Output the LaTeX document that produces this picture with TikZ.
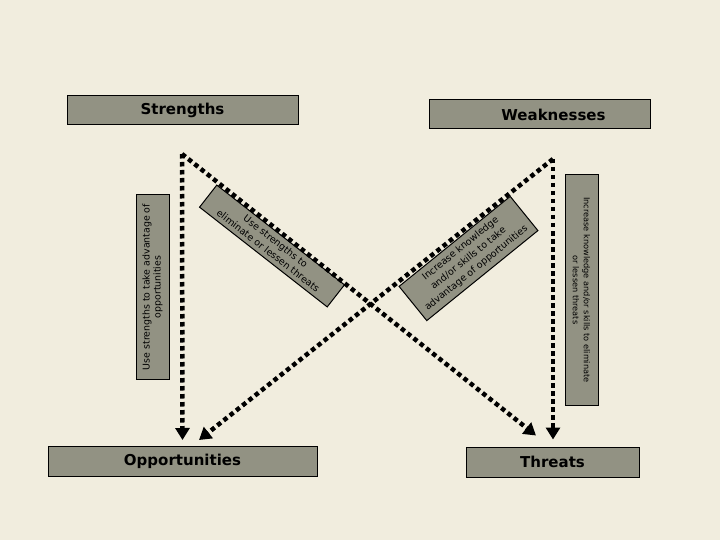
\documentclass[tikz,border=0pt]{standalone}
\usepackage{fontspec}
\setmainfont{DejaVu Sans}
\usetikzlibrary{arrows.meta}
\definecolor{bg}{RGB}{241,237,222}
\definecolor{boxgray}{RGB}{146,146,131}
\begin{document}
\begin{tikzpicture}[x=1pt,y=-1pt,
  hbox/.style={draw=black, line width=1pt, fill=boxgray, inner sep=0pt,
    font=\fontsize{15}{18}\selectfont\bfseries},
  sbox/.style={draw=black, line width=1pt, fill=boxgray, inner sep=0pt,
    align=center},
  dotline/.style={line width=4.5pt, dash pattern=on 4.5pt off 3.5pt,
    -{Triangle[width=14pt,length=12pt]}}]
\fill[bg] (0,0) rectangle (720,540);
\useasboundingbox (0,0) rectangle (720,540);
% heading boxes
\node[hbox, minimum width=231pt, minimum height=29pt] (S) at (182.5,110.5) {Strengths};
\node[hbox, minimum width=221pt, minimum height=29pt] (W) at (539.5,114.5) {\hspace*{28pt}Weaknesses};
\node[hbox, minimum width=269pt, minimum height=30pt] (O) at (182.5,461.5) {Opportunities};
\node[hbox, minimum width=173pt, minimum height=30pt] (T) at (552.5,462) {Threats};
% side boxes
\node[sbox, rotate=90, minimum width=184pt, minimum height=33pt,
  font=\fontsize{9.4}{11}\selectfont] (SO) at (152.5,287)
  {Use strengths to take advantage of\\opportunities};
\node[sbox, rotate=-90, minimum width=230pt, minimum height=33pt,
  font=\fontsize{8.2}{11}\selectfont] (WT) at (581.5,290)
  {Increase knowledge and/or skills to eliminate\\or lessen threats};
% diagonal boxes
\node[sbox, rotate=-38, minimum width=162pt, minimum height=28pt,
  font=\fontsize{9.5}{12}\selectfont] (ST) at (272,246)
  {Use strengths to\\eliminate or lessen threats};
\node[sbox, rotate=39, minimum width=143pt, minimum height=44pt,
  font=\fontsize{9.5}{12.5}\selectfont] (WO) at (468.5,258.5)
  {Increase knowledge\\and/or skills to take\\advantage of opportunities};
% apexes
\coordinate (L) at (182,154);
\coordinate (R) at (553,159);
% connectors
\draw[dotline] (L) -- ([yshift=6pt]O.north);
\draw[dotline] (L) -- ([xshift=-16.5pt,yshift=11pt]T.north);
\draw[dotline] (R) -- ([xshift=0.5pt,yshift=7pt]T.north);
\draw[dotline] (R) -- ([xshift=16.5pt,yshift=6pt]O.north);
\end{tikzpicture}
\end{document}
